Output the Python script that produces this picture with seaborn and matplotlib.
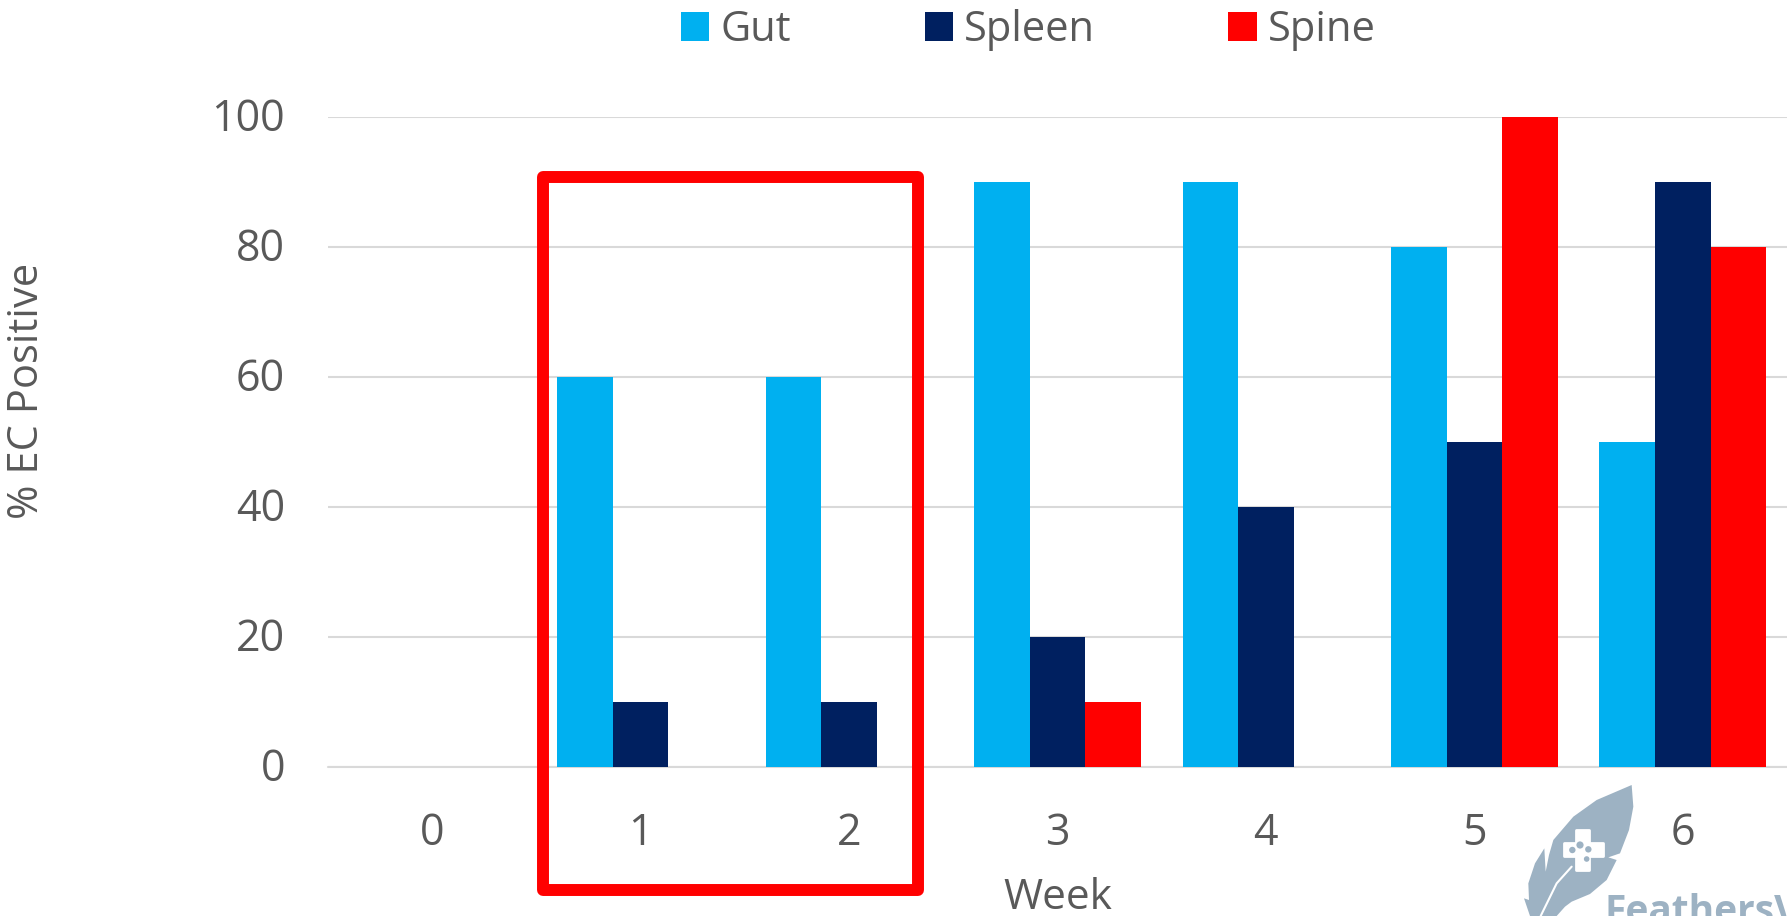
import matplotlib
matplotlib.use('Agg')
import matplotlib.pyplot as plt
from matplotlib.patches import Polygon, Rectangle, Circle
from matplotlib.transforms import ScaledTranslation
import pandas as pd
import seaborn as sns

# 데이터
weeks = [0, 1, 2, 3, 4, 5, 6]
gut = [0, 60, 60, 90, 90, 80, 50]
spleen = [0, 10, 10, 20, 40, 50, 90]
spine = [0, 0, 0, 10, 0, 100, 80]
y_ticks = [0, 20, 40, 60, 80, 100]

colors = {'Gut': '#00B0F0', 'Spleen': '#002060', 'Spine': '#FF0000'}
text_color = '#595959'
grid_color = '#D9D9D9'
logo_color = '#9DB2C3'

W, H = 1787, 916

df = pd.DataFrame({'Week': weeks * 3,
                   'Tissue': ['Gut'] * 7 + ['Spleen'] * 7 + ['Spine'] * 7,
                   'Pct': gut + spleen + spine})

sns.set_theme(style='white')
plt.rcParams['font.family'] = ['Open Sans', 'DejaVu Sans']

fig = plt.figure(figsize=(W / 100, H / 100), dpi=100)
ax = fig.add_axes([328 / W, 1 - 767 / H, (W - 328) / W, (767 - 116.5) / H])

sns.barplot(data=df, x='Week', y='Pct', hue='Tissue', palette=colors,
            width=0.8, gap=0, saturation=1, linewidth=0, ax=ax, zorder=3)

ax.set_xlim(-0.5, 6.5)
ax.set_ylim(0, 100)
ax.set_yticks(y_ticks)
ax.grid(axis='y', color=grid_color, lw=1.5, zorder=0)
ax.set_axisbelow(True)
sns.despine(ax=ax, left=True, bottom=True, top=True, right=True)
ax.axhline(0, color=grid_color, lw=1.5, zorder=2, clip_on=False)
ax.tick_params(axis='y', length=0, pad=31, labelsize=31, labelcolor=text_color)
ax.tick_params(axis='x', length=0, pad=32, labelsize=31, labelcolor=text_color)
ax.set_xlabel('Week', fontsize=30.5, color=text_color, labelpad=15)
ax.set_ylabel('')

# y 눈금 글자 살짝 위로
for lab in ax.get_yticklabels():
    lab.set_transform(lab.get_transform() + ScaledTranslation(0, 2.5 / 100, fig.dpi_scale_trans))

# 범례
handles, labels = ax.get_legend_handles_labels()
ax.legend(handles, labels, ncol=3, frameon=False, fontsize=30,
          handlelength=0.68, handleheight=0.68, handletextpad=0.27,
          columnspacing=3.2, borderpad=0, borderaxespad=0,
          labelcolor=text_color, loc='upper left',
          bbox_to_anchor=(681 / W, 1 - 9 / H), bbox_transform=fig.transFigure)

# 픽셀 좌표용 오버레이 (강조 상자, 로고)
ov = fig.add_axes([0, 0, 1, 1], facecolor='none')
ov.set_xlim(0, W)
ov.set_ylim(H, 0)
ov.axis('off')

fig.text(27 / W, 1 - 391 / H, '% EC Positive', rotation=90, fontsize=30,
         color=text_color, ha='center', va='center')

ov.add_patch(Rectangle((543, 177), 375, 713, fill=False, edgecolor='#FF0000',
                       lw=8.6, joinstyle='round'))


def zp(x, y):
    # 확대 이미지 좌표 -> 원본 픽셀
    return (1450 + x / 3, 740 + y / 3)


feather = [(545, 135), (550, 200), (537, 270), (510, 340), (475, 352), (500, 360),
           (470, 420), (420, 462), (365, 485), (345, 500), (320, 528), (240, 528),
           (222, 475), (237, 480), (235, 430), (255, 370), (283, 325), (287, 395),
           (297, 345), (310, 300), (370, 230), (440, 180)]
ov.add_patch(Polygon([zp(*p) for p in feather], color=logo_color, lw=0))
ov.plot(*zip(zp(365, 380), zp(320, 430), zp(272, 528)), color='white', lw=1.5)
ov.add_patch(Rectangle(zp(379, 269), 13, 40, color='white', lw=2, joinstyle='round'))
ov.add_patch(Rectangle(zp(341, 309), 39, 13, color='white', lw=2, joinstyle='round'))
for cx, cy, r in [(367, 330, 3.2), (390, 315, 3.6), (415, 328, 3.2), (410, 357, 2.8)]:
    ov.add_patch(Circle(zp(cx, cy), r, color=logo_color, lw=0))
ov.text(1604, 923, 'FeathersVet', fontsize=28, fontweight='bold', color=logo_color,
        ha='left', va='baseline', clip_on=True)

fig.savefig('out.png', dpi=100)
